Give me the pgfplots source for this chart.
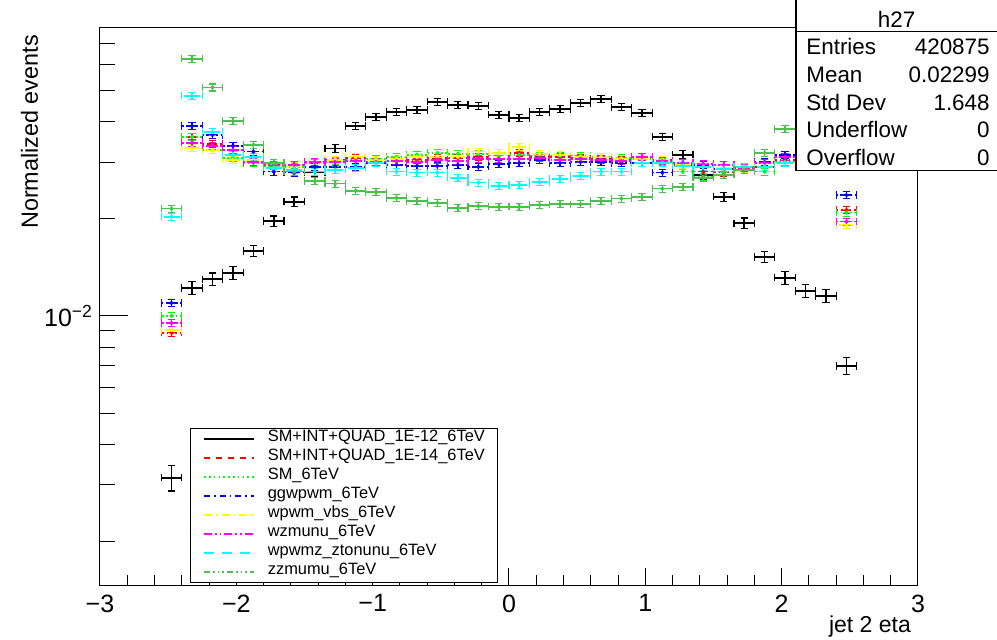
\documentclass[border=0pt]{standalone}
\usepackage{fontspec}
\setmainfont{Liberation Sans}
\usepackage{pgfplots}
\usepackage{pgfplotstable}
\pgfplotsset{compat=1.18}
\definecolor{zzg}{rgb}{0.3,0.75,0.3}
\definecolor{smg}{rgb}{0,1,0}
\definecolor{yel}{rgb}{1,1,0}
\definecolor{cya}{rgb}{0,1,1}
\definecolor{mag}{rgb}{1,0,1}
\definecolor{rd}{rgb}{1,0,0}
\definecolor{bl}{rgb}{0,0,1}
\pgfplotstableread{
x black berr red sm blue yel mag cyan zz
-2.475 0.00315 0.000286 0.00886 0.0100 0.01097 0.00905 0.00951 0.0203 0.0215
-2.325 0.0122 0.000563 0.0359 0.0359 0.0388 0.0332 0.0344 0.0481 0.0627
-2.175 0.0130 0.000581 0.0341 0.0327 0.0364 0.0327 0.0337 0.0372 0.0511
-2.025 0.0136 0.000595 0.0327 0.0309 0.0337 0.0305 0.0327 0.0316 0.0402
-1.875 0.0159 0.000643 0.0300 0.0298 0.0323 0.0305 0.0300 0.0311 0.0339
-1.725 0.0197 0.000716 0.0294 0.0292 0.0280 0.0294 0.0294 0.0288 0.0298
-1.575 0.0226 0.000767 0.0294 0.0290 0.0278 0.0292 0.0294 0.0284 0.0280
-1.425 0.0278 0.000850 0.0300 0.0298 0.0290 0.0300 0.0300 0.0280 0.0262
-1.275 0.0330 0.000927 0.0305 0.0302 0.0290 0.0305 0.0300 0.0284 0.0257
-1.125 0.0388 0.001005 0.0309 0.0305 0.0290 0.0311 0.0302 0.0288 0.0244
-0.975 0.0414 0.001038 0.0300 0.0307 0.0298 0.0305 0.0300 0.0298 0.0242
-0.825 0.0429 0.001056 0.0302 0.0311 0.0294 0.0307 0.0302 0.0280 0.0232
-0.675 0.0435 0.001064 0.0305 0.0316 0.0292 0.0311 0.0300 0.0278 0.0227
-0.525 0.0461 0.001095 0.0309 0.0320 0.0292 0.0311 0.0305 0.0278 0.0224
-0.375 0.0451 0.001083 0.0309 0.0318 0.0294 0.0311 0.0302 0.0268 0.0216
-0.225 0.0448 0.001080 0.0311 0.0318 0.0290 0.0323 0.0307 0.0259 0.0219
-0.075 0.0420 0.001045 0.0307 0.0314 0.0296 0.0320 0.0307 0.0253 0.0218
0.075 0.0411 0.001034 0.0320 0.0316 0.0298 0.0334 0.0307 0.0255 0.0218
0.225 0.0429 0.001056 0.0311 0.0314 0.0305 0.0318 0.0309 0.0260 0.0221
0.375 0.0438 0.001067 0.0311 0.0314 0.0298 0.0316 0.0305 0.0266 0.0222
0.525 0.0457 0.001090 0.0309 0.0314 0.0300 0.0311 0.0307 0.0272 0.0222
0.675 0.0470 0.001106 0.0307 0.0311 0.0300 0.0311 0.0305 0.0280 0.0227
0.825 0.0444 0.001075 0.0305 0.0309 0.0298 0.0307 0.0302 0.0280 0.0231
0.975 0.0426 0.001053 0.0311 0.0307 0.0298 0.0307 0.0311 0.0298 0.0234
1.125 0.0359 0.000966 0.0305 0.0300 0.0278 0.0305 0.0302 0.0298 0.0248
1.275 0.0316 0.000907 0.0294 0.0280 0.0298 0.0294 0.0298 0.0292 0.0251
1.425 0.0274 0.000844 0.0280 0.0270 0.0294 0.0290 0.0296 0.0290 0.0268
1.575 0.0234 0.000780 0.0278 0.0280 0.0286 0.0288 0.0294 0.0286 0.0274
1.725 0.0194 0.000710 0.0284 0.0290 0.0286 0.0286 0.0288 0.0290 0.0284
1.875 0.01524 0.000630 0.0290 0.0280 0.0300 0.0290 0.0298 0.0290 0.0320
2.025 0.01312 0.000584 0.0305 0.0300 0.0316 0.0298 0.0311 0.0298 0.0380
2.175 0.01195 0.000558 0.0310 0.0310 0.0310 0.0310 0.0310 0.0310 0.0460
2.325 0.01153 0.000548 0.0310 0.0310 0.0310 0.0310 0.0310 0.0330 0.0550
2.475 0.0070 0.000427 0.0213 0.0209 0.0237 0.0191 0.0196 0.0400 0.0430
}\data
\pgfplotsset{
  colser/.style={only marks, mark=*, mark size=0.9pt, forget plot,
    error bars/.cd, x dir=both, x fixed=0.075, y dir=both, y fixed relative=0.025,
    error mark options={rotate=90, mark size=1.8pt, solid, line width=0.6pt}},
}
\begin{document}
\begin{tikzpicture}
\useasboundingbox (-50pt,-27.5pt) rectangle (448.5pt,292.5pt);
\begin{axis}[
  scale only axis, width=409pt, height=278.5pt,
  at={(0pt,0pt)}, anchor=south west,
  xmin=-3, xmax=3, ymode=log, ymin=1.465e-3, ymax=0.0781,
  xtick={-3,-2,-1,0,1,2,3}, xticklabels={−3,−2,−1,0,1,2,3},
  minor x tick num=4,
  ytick={0.01}, yticklabels={10\textsuperscript{−2}},
  minor ytick={0.002,0.003,0.004,0.005,0.006,0.007,0.008,0.009,0.02,0.03,0.04,0.05,0.06,0.07},
  tick pos=left, tick align=inside,
  major tick length=8pt, minor tick length=5pt,
  xtick style={/pgfplots/major tick length=8.5pt,/pgfplots/minor tick length=5pt},
  ytick style={/pgfplots/major tick length=14pt,/pgfplots/minor tick length=7.5pt},
  every tick/.style={black, line width=0.5pt},
  axis line style={line width=0.5pt},
  xticklabel style={font=\fontsize{12.5}{14}\selectfont, yshift=-1.3pt},
  yticklabel style={font=\fontsize{12.5}{14}\selectfont},
  xlabel={jet 2 eta}, ylabel={Normalized events},
  every axis x label/.style={at={(axis description cs:1,0)}, anchor=base east, yshift=-23.5pt, font=\fontsize{11.5}{13}\selectfont},
  every axis y label/.style={at={(axis description cs:-0.0758,1)}, anchor=base east, rotate=90, font=\fontsize{11.7}{13}\selectfont},
  legend image code/.code={\draw[#1] (0pt,0pt) -- (25pt,0pt);},
  legend cell align=left,
  legend style={at={(0.110,0.0036)}, anchor=south west, draw=black, line width=0.5pt,
    font=\fontsize{8.2}{9.5}\selectfont, inner xsep=6.5pt, inner ysep=0.5pt,
    column sep=6.5pt, row sep=0pt,
    nodes={inner sep=0pt, text height=6pt, text depth=3.5pt}},
]
\addplot[black, only marks, mark=*, mark size=0.5pt, forget plot,
  error bars/.cd, x dir=both, x fixed=0.075, y dir=both, y explicit,
  error bar style={line width=0.8pt},
  error mark options={rotate=90, mark size=1.8pt, line width=0.6pt}]
  table[x=x, y=black, y error=berr] {\data};
\addplot[rd, colser, error bar style={line width=0.8pt, dash pattern=on 2.5pt off 1.5pt}] table[x=x, y=red] {\data};
\addplot[smg, colser, error bar style={line width=0.8pt, dash pattern=on 0.8pt off 1.2pt}] table[x=x, y=sm] {\data};
\addplot[bl, colser, error bar style={line width=0.8pt, dash pattern=on 3pt off 1.2pt on 0.8pt off 1.2pt}] table[x=x, y=blue] {\data};
\addplot[yel, colser, error bar style={line width=0.8pt, dash pattern=on 3.5pt off 1.2pt on 0.8pt off 1.2pt}] table[x=x, y=yel] {\data};
\addplot[mag, colser, error bar style={line width=0.8pt, dash pattern=on 3pt off 1pt on 0.8pt off 1pt on 0.8pt off 1pt}] table[x=x, y=mag] {\data};
\addplot[cya, colser, error bar style={line width=0.8pt, dash pattern=on 4pt off 2pt}] table[x=x, y=cyan] {\data};
\addplot[zzg, colser, error bar style={line width=0.8pt}] table[x=x, y=zz] {\data};
\addlegendimage{black, line width=0.7pt}
\addlegendentry{SM+INT+QUAD\_1E-12\_6TeV}
\addlegendimage{rd, line width=0.7pt, dash pattern=on 3pt off 3pt}
\addlegendentry{SM+INT+QUAD\_1E-14\_6TeV}
\addlegendimage{smg, line width=0.7pt, dash pattern=on 0.8pt off 1.6pt}
\addlegendentry{SM\_6TeV}
\addlegendimage{bl, line width=0.7pt, dash pattern=on 3pt off 2pt on 0.8pt off 2pt}
\addlegendentry{ggwpwm\_6TeV}
\addlegendimage{yel, line width=0.7pt, dash pattern=on 4pt off 2pt on 0.8pt off 2pt}
\addlegendentry{wpwm\_vbs\_6TeV}
\addlegendimage{mag, line width=0.7pt, dash pattern=on 4pt off 1.5pt on 0.8pt off 1.5pt on 0.8pt off 1.5pt}
\addlegendentry{wzmunu\_6TeV}
\addlegendimage{cya, line width=0.7pt, dash pattern=on 5pt off 4pt}
\addlegendentry{wpwmz\_ztonunu\_6TeV}
\addlegendimage{zzg, line width=0.7pt, dash pattern=on 3pt off 1.5pt on 0.8pt off 1.5pt on 0.8pt off 1.5pt on 0.8pt off 1.5pt}
\addlegendentry{zzmumu\_6TeV}
\end{axis}
\fill[white] (348pt,207.2pt) rectangle (452pt,294pt);
\draw[line width=0.6pt] (348pt,207.2pt) rectangle (452pt,294pt);
\draw[line width=0.6pt] (348pt,276.7pt) -- (452pt,276.7pt);
\begin{scope}[every node/.style={font=\fontsize{11.2}{13}\selectfont, inner sep=0pt}]
\node[anchor=base] at (398.3pt,278.8pt) {h27};
\node[anchor=base west] at (353pt,265pt) {Entries};
\node[anchor=base east] at (445pt,265pt) {420875};
\node[anchor=base west] at (353pt,251pt) {Mean};
\node[anchor=base east] at (445pt,251pt) {0.02299};
\node[anchor=base west] at (353pt,237pt) {Std Dev};
\node[anchor=base east] at (445pt,237pt) {1.648};
\node[anchor=base west] at (353pt,223.5pt) {Underflow};
\node[anchor=base east] at (445pt,223.5pt) {0};
\node[anchor=base west] at (353pt,209.5pt) {Overflow};
\node[anchor=base east] at (445pt,209.5pt) {0};
\end{scope}
\end{tikzpicture}
\end{document}
